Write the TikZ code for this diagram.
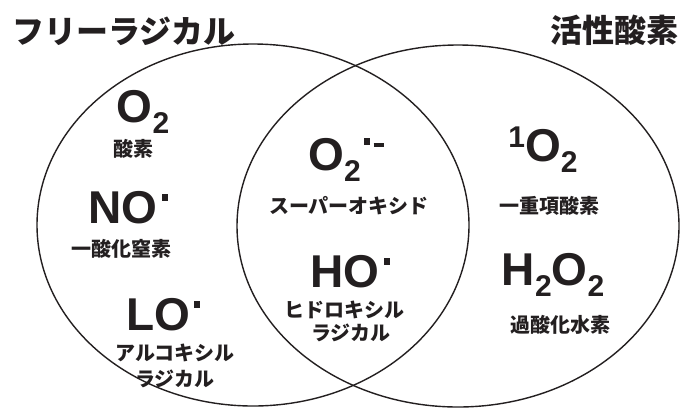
\documentclass[tikz,border=0pt]{standalone}
\usepackage{fontspec}
\setmainfont{Liberation Sans}
\newfontfamily\jpfont{Noto Sans CJK JP}
\definecolor{ink}{HTML}{231F20}
\newcommand\rsub[1]{\raisebox{-11pt}{\fontsize{30}{30}\selectfont #1}}
\newcommand\rsup[1]{\raisebox{14pt}{\fontsize{30}{30}\selectfont #1}}
\newcommand\rdot{\hspace{4pt}\raisebox{22pt}{\rule{6pt}{7pt}}}
\begin{document}
\begin{tikzpicture}[x=1pt,y=-1pt,
  chem/.style={font=\fontsize{46}{46}\selectfont\bfseries, inner sep=0pt, anchor=base, text=ink},
  lab/.style={font=\jpfont\bfseries\fontsize{20}{22}\selectfont, inner sep=0pt, text=ink, align=center},
  ttl/.style={font=\jpfont\bfseries\fontsize{32}{32}\selectfont, inner sep=0pt, text=ink},
  ring/.style={draw=ink, line width=1.4pt}]
\useasboundingbox (0,0) rectangle (684,407);
\fill[white] (0,0) rectangle (684,407);
\begin{scope}
\clip (0,0) rectangle (684,407);
\draw[ring] (253,225) ellipse [x radius=216pt, y radius=181pt];
\draw[ring] (458,226) ellipse [x radius=221pt, y radius=181pt];
\end{scope}
% titles
\node[ttl] (t1) at (124,31) {フリーラジカル};
\node[ttl] (t2) at (614,30) {活性酸素};
% free radicals only
\node[chem] (o2) at (143,122) {O\rsub{2}};
\node[lab] (o2l) at (133,149) {酸素};
\node[chem] (no) at (128,223) {NO\rdot};
\node[lab] (nol) at (121,249) {一酸化窒素};
\node[chem] (lo) at (163,330) {LO\rdot};
\node[lab] (lol1) at (175,353) {アルコキシル};
\node[lab] (lol2) at (175,379) {ラジカル};
% intersection
\node[chem] (sup) at (346,170) {O\rsub{2}\hspace{3pt}\raisebox{25pt}{\rule{6pt}{7pt}}\hspace{4pt}\raisebox{23pt}{\rule{10pt}{4pt}}};
\node[lab] (supl) at (349,206) {スーパーオキシド};
\node[chem] (ho) at (350,287) {HO\rdot};
\node[lab] (hol1) at (344,310) {ヒドロキシル};
\node[lab] (hol2) at (351,333) {ラジカル};
% reactive oxygen only
\node[chem] (so) at (543,161) {\rsup{1}O\rsub{2}};
\node[lab] (sol) at (549,206) {一重項酸素};
\node[chem] (hp) at (553,285) {H\rsub{2}O\rsub{2}};
\node[lab] (hpl) at (560,325) {過酸化水素};
\end{tikzpicture}
\end{document}
